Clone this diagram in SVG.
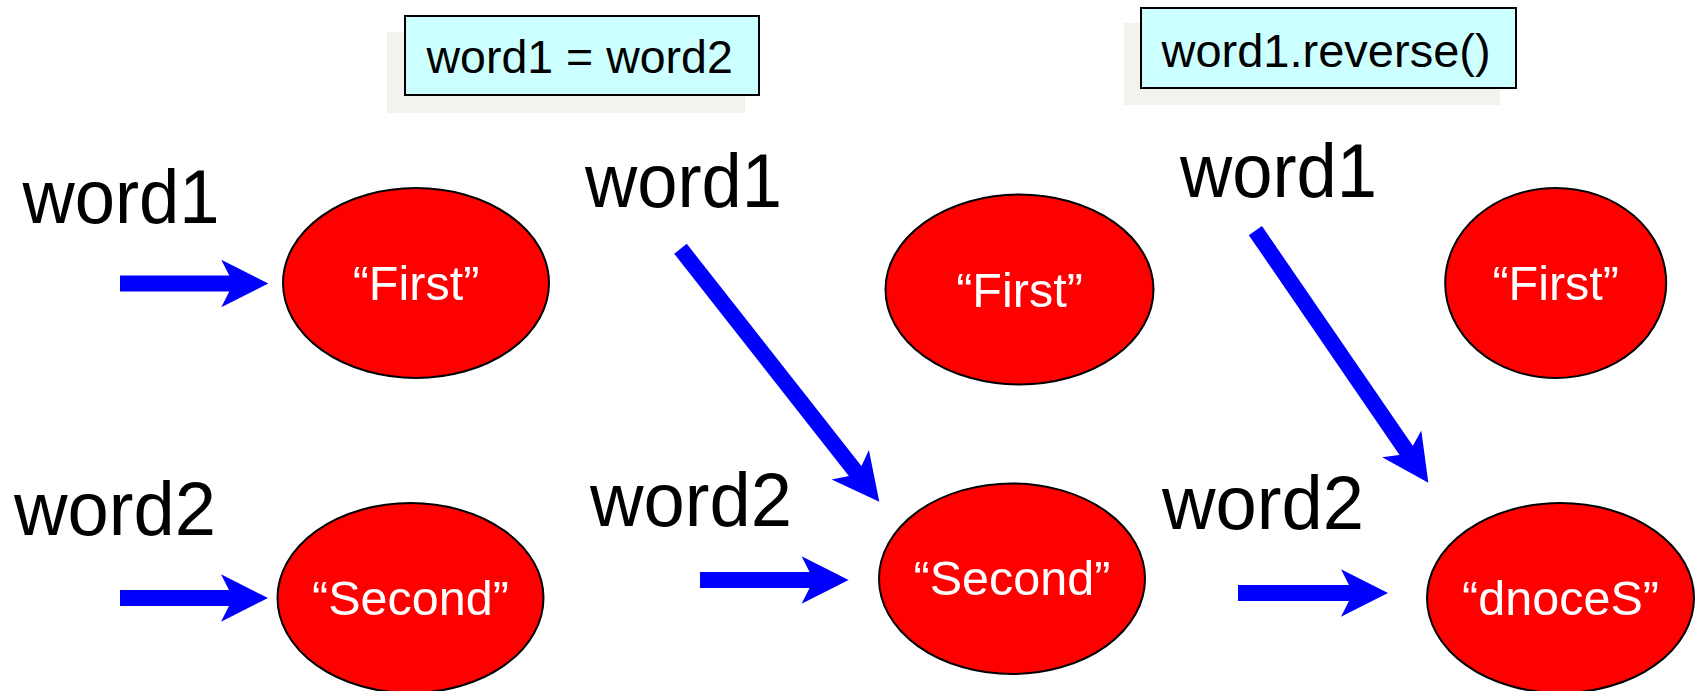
<svg xmlns="http://www.w3.org/2000/svg" width="1696" height="691" viewBox="0 0 1696 691">
  <style>
    .bg { fill: #ffffff; }
    .shadow { fill: #f3f2ee; }
    .box { fill: #ccffff; stroke: #000000; stroke-width: 2; }
    .code { font-family: "Liberation Sans", Arial, sans-serif; font-size: 46.5px; fill: #000000; }
    .var { font-family: "Liberation Sans", Arial, sans-serif; font-size: 76px; fill: #000000; }
    .obj { fill: #ff0000; stroke: #000000; stroke-width: 2; }
    .str { font-family: "Liberation Sans", Arial, sans-serif; font-size: 48.5px; fill: #ffffff; text-anchor: middle; }
    .ref { stroke: #0000ff; stroke-width: 16; fill: none; marker-end: url(#head); }
  </style>
  <defs>
    <marker id="head" markerUnits="userSpaceOnUse" markerWidth="48" markerHeight="48" viewBox="0 0 48 48" refX="19" refY="23.7" orient="auto" overflow="visible">
      <path d="M0,0 L47,23.7 L0,47.4 L12,23.7 Z" fill="#0000ff"/>
    </marker>
  </defs>
  <rect class="bg" x="0" y="0" width="1696" height="691"/>

  <g id="stmt-assign">
    <rect class="shadow" x="387" y="32" width="358" height="81"/>
    <rect class="box" x="405" y="16" width="354" height="79"/>
    <text class="code" x="426.5" y="73">word1 = word2</text>
  </g>
  <g id="stmt-reverse">
    <rect class="shadow" x="1124" y="23" width="376" height="82"/>
    <rect class="box" x="1141" y="8" width="375" height="80"/>
    <text class="code" x="1161.5" y="67" style="font-size:47px">word1.reverse()</text>
  </g>

  <g id="label-word1-a"><text class="var" x="22.5" y="223" textLength="197" lengthAdjust="spacingAndGlyphs">word1</text></g>
  <g id="label-word2-a"><text class="var" x="14" y="535" textLength="202" lengthAdjust="spacingAndGlyphs">word2</text></g>
  <g id="label-word1-b"><text class="var" x="585" y="207" textLength="197" lengthAdjust="spacingAndGlyphs">word1</text></g>
  <g id="label-word2-b"><text class="var" x="590" y="526" textLength="202" lengthAdjust="spacingAndGlyphs">word2</text></g>
  <g id="label-word1-c"><text class="var" x="1180" y="197" textLength="197" lengthAdjust="spacingAndGlyphs">word1</text></g>
  <g id="label-word2-c"><text class="var" x="1162" y="529" textLength="202" lengthAdjust="spacingAndGlyphs">word2</text></g>

  <g id="obj-first-a">
    <ellipse class="obj" cx="416" cy="283" rx="133" ry="95"/>
    <text class="str" x="416" y="300">“First”</text>
  </g>
  <g id="obj-second-a">
    <ellipse class="obj" cx="410.5" cy="598" rx="133" ry="95"/>
    <text class="str" x="410.5" y="615">“Second”</text>
  </g>
  <g id="obj-first-b">
    <ellipse class="obj" cx="1019.5" cy="289.5" rx="134" ry="95"/>
    <text class="str" x="1019.5" y="306.5">“First”</text>
  </g>
  <g id="obj-second-b">
    <ellipse class="obj" cx="1012" cy="578.7" rx="133" ry="95.3"/>
    <text class="str" x="1012" y="595">“Second”</text>
  </g>
  <g id="obj-first-c">
    <ellipse class="obj" cx="1555.7" cy="283" rx="110.5" ry="95"/>
    <text class="str" x="1555.7" y="300">“First”</text>
  </g>
  <g id="obj-dnoces-c">
    <ellipse class="obj" cx="1560.5" cy="598" rx="133.5" ry="95"/>
    <text class="str" x="1560.5" y="615">“dnoceS”</text>
  </g>

  <g id="connectors">
    <line class="ref" x1="120" y1="283.5" x2="240.3" y2="283.5"/>
    <line class="ref" x1="120" y1="598" x2="240" y2="598"/>
    <line class="ref" x1="680.5" y1="248.8" x2="862" y2="479.7"/>
    <line class="ref" x1="700" y1="580" x2="820.6" y2="580"/>
    <line class="ref" x1="1255.4" y1="230.6" x2="1412.5" y2="459.6"/>
    <line class="ref" x1="1238" y1="593" x2="1360" y2="593"/>
  </g>
</svg>
